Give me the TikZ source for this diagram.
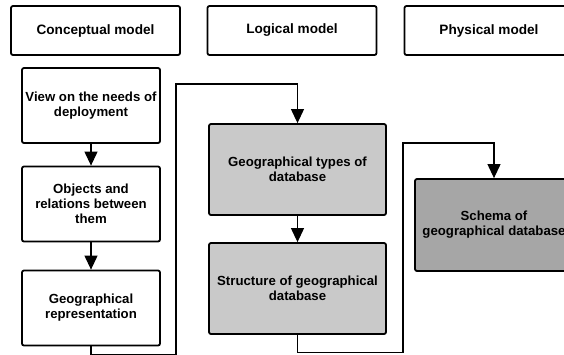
\documentclass[tikz,border=0pt]{standalone}
\usepackage{fontspec}
\setmainfont{Liberation Sans}
\usetikzlibrary{arrows.meta}
\definecolor{LogicGray}{HTML}{C9C9C9}
\definecolor{PhysGray}{HTML}{A6A6A6}

\begin{document}
\begin{tikzpicture}[x=1pt, y=-1pt,
    box/.style={draw, line width=1.8pt, rounded corners=2pt, align=center, inner sep=2pt,
                font=\fontsize{13.2}{15}\selectfont\bfseries},
    hdr/.style={box, minimum width=169pt, minimum height=49pt, font=\fontsize{13.6}{15}\selectfont\bfseries},
    stage/.style={box, fill=white, minimum width=138pt, minimum height=75pt},
    logic/.style={box, fill=LogicGray, minimum width=177pt, minimum height=91pt},
    phys/.style={box, fill=PhysGray, minimum width=158pt, minimum height=92pt},
    link/.style={line width=1.1pt, -{Triangle[length=14pt, width=13pt]}}]
    \useasboundingbox (0,0) rectangle (564,354);

    % column headers
    \node [hdr] (conc) at (95.5,30.5) {Conceptual model};
    \node [hdr] (logi) at (292,30.5) {Logical model};
    \node [hdr] (phy) at (489,30.5) {Physical model};

    % conceptual column
    \node [stage] (view) at (91,105.5) {View on the needs of\\deployment};
    \node [stage] (obj) at (91,204) {Objects and\\relations between\\them};
    \node [stage] (rep) at (91,308) {Geographical\\representation};

    % logical column
    \node [logic] (types) at (297.5,169.5) {Geographical types of\\database};
    \node [logic] (struct) at (297.5,288.5) {Structure of geographical\\database};

    % physical column
    \node [phys] (schema) at (494,225) {Schema of\\geographical database};

    \coordinate (bus1) at (176,84);
    \coordinate (bus2) at (403,143);

    \draw [link] (view) -- (obj);
    \draw [link] (obj) -- (rep);
    \draw [link] (types) -- (struct);
    \draw [link] (rep.south) -- ++(0,8) -| (bus1) -| (types.north);
    \draw [link] (struct.south) -- ++(0,18) -| (bus2) -| (schema.north);
\end{tikzpicture}
\end{document}
